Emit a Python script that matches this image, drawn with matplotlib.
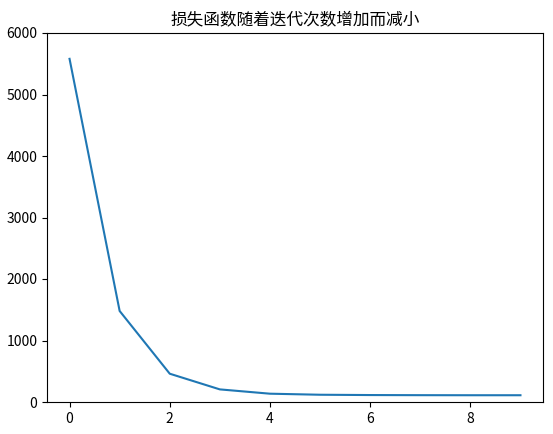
import matplotlib
matplotlib.use("Agg")
import matplotlib.pyplot as plt

# loss per iteration
iterations = list(range(10))
loss = [5580, 1480, 460, 205, 135, 118, 113, 111, 110, 110]

plt.rcParams['font.family'] = ['Noto Sans CJK SC', 'DejaVu Sans']
plt.rcParams['axes.unicode_minus'] = False

fig = plt.figure(figsize=(5.53, 4.34), dpi=100)
ax = fig.add_axes([47 / 553, 1 - 402 / 434, 496 / 553, 369 / 434])
ax.plot(iterations, loss, color="#1f77b4")
ax.set_ylim(0, 6000)
ax.set_title("损失函数随着迭代次数增加而减小")

fig.savefig("out.png", dpi=100)
